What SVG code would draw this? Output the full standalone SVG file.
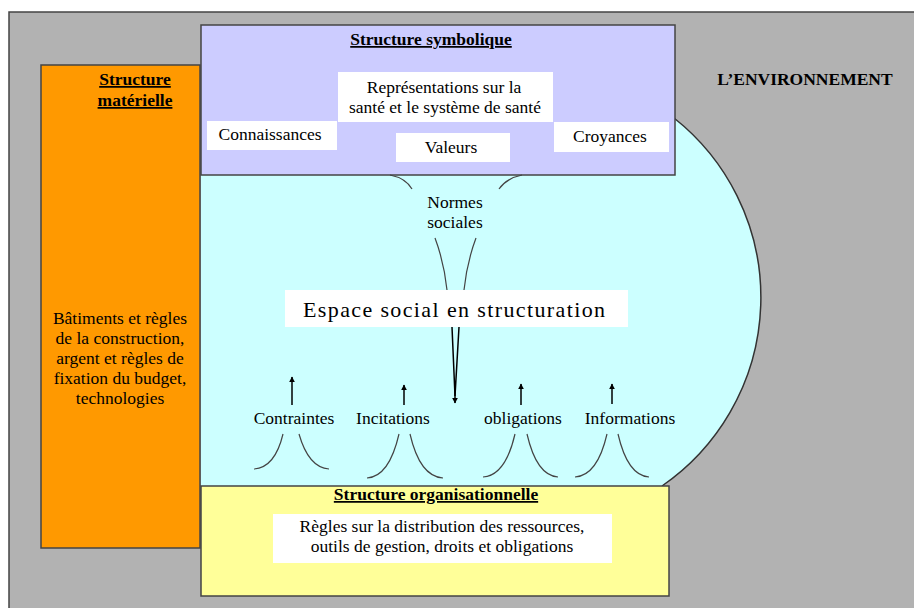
<svg xmlns="http://www.w3.org/2000/svg" width="914" height="608" viewBox="0 0 914 608" font-family="Liberation Serif, DejaVu Serif, serif">
<defs>
<marker id="ah" viewBox="0 0 10 10" refX="9" refY="5" markerWidth="6" markerHeight="6" orient="auto" markerUnits="userSpaceOnUse">
<path d="M0,0 L10,5 L0,10 Z" fill="#000"/>
</marker>
</defs>
<style>
text{font-family:'Liberation Serif',serif;font-size:17.5px;fill:#000}
.c{text-anchor:middle}
.b{font-weight:bold}
.u{text-decoration:underline}
.box{stroke:#444;stroke-width:1.5}
.wb{fill:#fff}
.cv{fill:none;stroke:#444;stroke-width:1.2}
.ar{fill:none;stroke:#000;stroke-width:1.5}
</style>
<rect width="914" height="608" fill="#fff"/>
<g id="environnement">
<rect x="9" y="12" width="910" height="600" fill="#b2b2b2" stroke="#444" stroke-width="1.5"/>
<text x="805" y="85" class="c b">L’ENVIRONNEMENT</text>
</g>
<g id="espace-social">
<path d="M201,118 L674,118 A229,229 0 0 1 662,486 L201,486 Z" fill="#ccffff"/>
<path d="M674,118 A229,229 0 0 1 662,486" fill="none" stroke="#333" stroke-width="1.5"/>
<rect x="285" y="290" width="343" height="37" class="wb"/>
<text x="303" y="317" style="font-size:22px" textLength="302" lengthAdjust="spacing">Espace social en structuration</text>
</g>
<g id="structure-symbolique">
<rect x="201" y="25" width="474" height="150" fill="#ccccff" class="box"/>
<text x="431" y="45" class="c b u">Structure symbolique</text>
<rect x="338" y="72" width="215" height="50" class="wb"/>
<text x="444" y="93" class="c">Représentations sur la</text>
<text x="445" y="113" class="c">santé et le système de santé</text>
<rect x="207" y="121" width="130" height="29" class="wb"/>
<text x="270" y="140" class="c">Connaissances</text>
<rect x="396" y="133" width="114" height="29" class="wb"/>
<text x="451" y="153" class="c">Valeurs</text>
<rect x="554" y="122" width="115" height="30" class="wb"/>
<text x="610" y="142" class="c">Croyances</text>
</g>
<g id="structure-materielle">
<rect x="41" y="65" width="159" height="483" fill="#ff9900" class="box"/>
<text x="135" y="85" class="c b u">Structure</text>
<text x="135" y="106" class="c b u">matérielle</text>
<text x="120" y="324" class="c">Bâtiments et règles</text>
<text x="120" y="344" class="c">de la construction,</text>
<text x="120" y="364" class="c">argent et règles de</text>
<text x="120" y="384" class="c">fixation du budget,</text>
<text x="120" y="404" class="c">technologies</text>
</g>
<g id="structure-organisationnelle">
<rect x="201" y="486" width="468" height="110" fill="#ffff99" class="box"/>
<text x="436" y="500" class="c b u">Structure organisationnelle</text>
<rect x="273" y="514" width="339" height="49" class="wb"/>
<text x="442" y="532" class="c">Règles sur la distribution des ressources,</text>
<text x="442" y="552" class="c">outils de gestion, droits et obligations</text>
</g>
<g id="labels">
<text x="455" y="208" class="c">Normes</text>
<text x="455" y="228" class="c">sociales</text>
<text x="294" y="424" class="c">Contraintes</text>
<text x="393" y="424" class="c">Incitations</text>
<text x="523" y="424" class="c">obligations</text>
<text x="630" y="424" class="c">Informations</text>
</g>
<g id="connectors">
<path class="cv" d="M390,175 C400,177 408,182 412,189"/>
<path class="cv" d="M522,175 C512,177 504,182 499,189"/>
<path class="cv" d="M435,238 Q444,262 447,290"/>
<path class="cv" d="M476,238 Q467,262 464,290"/>
<path class="ar" d="M452,327 L455,396 M459,327 L455,396"/>
<line class="ar" x1="455" y1="390" x2="455" y2="403" marker-end="url(#ah)"/>
<line class="ar" x1="292" y1="405" x2="292" y2="377" marker-end="url(#ah)"/>
<line class="ar" x1="404" y1="405" x2="404" y2="385" marker-end="url(#ah)"/>
<line class="ar" x1="521" y1="405" x2="521" y2="384" marker-end="url(#ah)"/>
<line class="ar" x1="612" y1="404" x2="612" y2="384" marker-end="url(#ah)"/>
<path class="cv" d="M283,434 C278,455 268,468 254,469"/>
<path class="cv" d="M299,434 C305,455 315,468 329,469"/>
<path class="cv" d="M399,434 C393,460 383,477 367,478"/>
<path class="cv" d="M410,434 C416,460 427,477 443,478"/>
<path class="cv" d="M515,434 C509,460 499,476 483,477"/>
<path class="cv" d="M527,434 C533,460 543,476 558,477"/>
<path class="cv" d="M607,434 C601,460 591,476 575,477"/>
<path class="cv" d="M618,434 C624,460 634,476 649,477"/>
</g>
</svg>
